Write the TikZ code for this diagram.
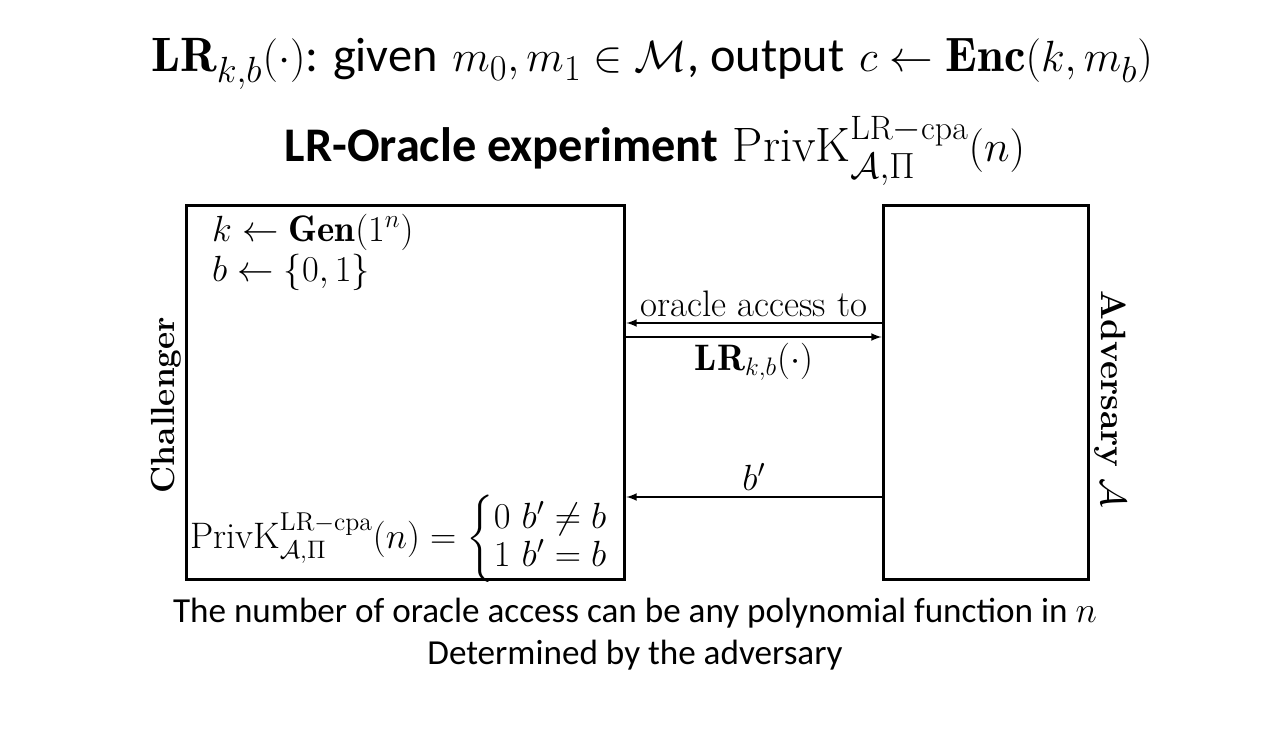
\documentclass[tikz,border=0pt]{standalone}
\usepackage{amsmath}
\usepackage{fontspec}
\newfontfamily\calibri{Carlito}
\newcommand{\privk}{\mathrm{PrivK}^{\mathrm{LR-cpa}}_{\mathcal{A},\Pi}(n)}
\tikzset{party/.style={rectangle,draw=black,line width=1.7pt,minimum height=7.5cm}}
\begin{document}
\begin{tikzpicture}[>=latex,x=0.02cm,y=-0.02cm,font=\fontsize{21}{24}\selectfont,inner sep=1pt]
\useasboundingbox (0,0) rectangle (1282,740);
\node (title) at (652,64)[font=\fontsize{27.5}{32}\selectfont]{$\mathbf{LR}_{k,b}(\cdot)${\calibri: given} $m_0,m_1\in\mathcal{M}${\calibri, output} $c\leftarrow\mathbf{Enc}(k,m_b)$};
\node (exp) at (655,151)[font=\fontsize{27.5}{32}\selectfont]{{\calibri\bfseries LR-Oracle experiment} $\privk$};

\node (ch) at (405.5,392.5)[party,minimum width=8.78cm]{};
\node (adv) at (986,392.5)[party,minimum width=4.12cm]{};
\node (chl) at (166,405)[rotate=90,font=\fontsize{19}{22}\selectfont\bfseries]{Challenger};
\node (advl) at (1110,399)[rotate=-90,font=\fontsize{20}{23}\selectfont]{\textbf{Adversary} $\mathcal{A}$};

\node (init) at (210,252)[anchor=west,align=left,font=\fontsize{21}{22.7}\selectfont]{$k\leftarrow\mathbf{Gen}(1^n)$\\$b\leftarrow\{0,1\}$};
\node (out) at (188,539)[anchor=west]{\renewcommand{\arraystretch}{0.85}$\privk=\left\{\begin{array}{@{}l@{}}0\ b'\neq b\\1\ b'=b\end{array}\right.$};

\coordinate (a1) at (0,323);
\coordinate (a2) at (0,337);
\coordinate (a3) at (0,497);
\draw[->,line width=1pt](adv.west|-a1)--node[above=2pt]{oracle access to}(ch.east|-a1);
\draw[->,line width=1pt](ch.east|-a2)--node[below=2pt]{$\mathbf{LR}_{k,b}(\cdot)$}(adv.west|-a2);
\draw[->,line width=1pt](adv.west|-a3)--node[above=2pt]{$b'$}(ch.east|-a3);

\node (note1) at (635,613)[font=\calibri\fontsize{20}{24}\selectfont]{The number of oracle access can be any polynomial function in $n$};
\node (note2) at (635,655)[font=\calibri\fontsize{20}{24}\selectfont]{Determined by the adversary};
\end{tikzpicture}
\end{document}
